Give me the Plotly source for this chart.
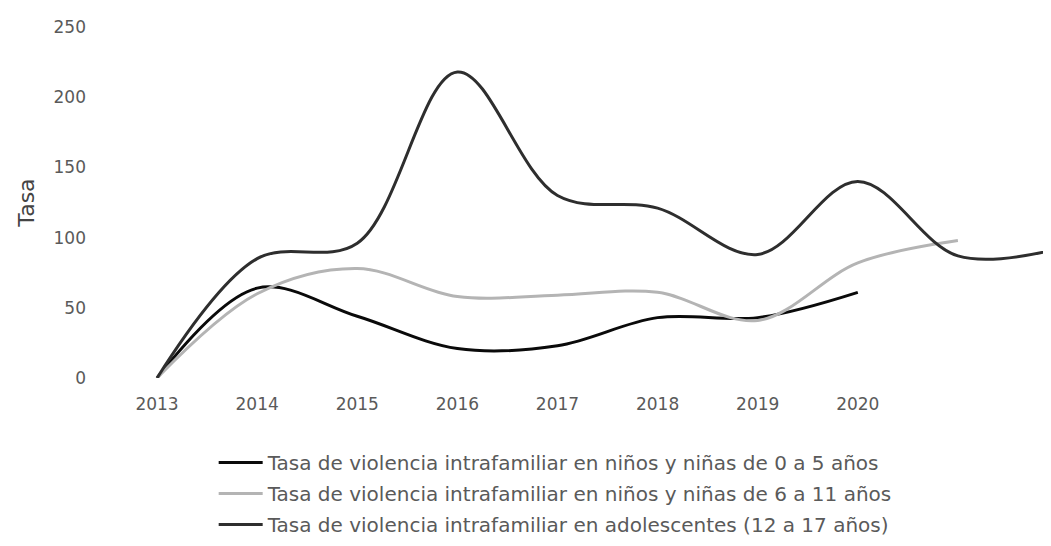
import plotly.graph_objects as go

# ---------------------------------------------------------------------------
# Data
# ---------------------------------------------------------------------------

YEARS_05 = [2013, 2014, 2015, 2016, 2017, 2018, 2019, 2020]
TASA_05 = [0, 64, 44, 21, 23, 43, 43, 61]

YEARS_611 = [2013, 2014, 2015, 2016, 2017, 2018, 2019, 2020, 2021]
TASA_611 = [0, 60, 78, 58, 59, 61, 41, 82, 98]

YEARS_ADOL = [2013, 2014, 2015, 2016, 2017, 2018, 2019, 2020, 2021, 2022]
TASA_ADOL = [0, 85, 96, 218, 130, 121, 88, 140, 87, 92]

TICK_YEARS = [2013, 2014, 2015, 2016, 2017, 2018, 2019, 2020]
TICK_LABELS = ["2013", "2014", "2015", "2016", "2017", "2018", "2019", "2020"]

NAMES = [
    "Tasa de violencia intrafamiliar en niños y niñas de 0 a 5 años",
    "Tasa de violencia intrafamiliar en niños y niñas de 6 a 11 años",
    "Tasa de violencia intrafamiliar en adolescentes (12 a 17 años)",
]
COLORS = ["#0a0a0a", "#b4b4b4", "#2e2e2e"]

FONT = "DejaVu Sans, sans-serif"
GREY_TXT = "#5a5a5a"

# ---------------------------------------------------------------------------
# Figure
# ---------------------------------------------------------------------------

fig = go.Figure()

series = [(YEARS_05, TASA_05), (YEARS_611, TASA_611), (YEARS_ADOL, TASA_ADOL)]
for i, (x, y) in enumerate(series):
    fig.add_trace(
        go.Scatter(
            x=x, y=y,
            name=NAMES[i],
            mode="lines",
            line=dict(color=COLORS[i], width=3, shape="spline", smoothing=1),
            legendgroup=f"g{i}",
        )
    )

# page has an 8px body margin, so the figure is sized to fit the window
fig.update_layout(
    width=1043,
    height=538,
    margin=dict(l=99, r=0, t=19, b=168),
    plot_bgcolor="white",
    paper_bgcolor="white",
    font=dict(family=FONT, size=16, color=GREY_TXT),
    legend=dict(
        x=0.113, y=-0.185,
        xanchor="left", yanchor="top",
        orientation="v",
        tracegroupgap=2,
        itemwidth=44,
        font=dict(size=20, color=GREY_TXT),
        bgcolor="rgba(0,0,0,0)",
    ),
    showlegend=True,
)

fig.update_xaxes(
    range=[2012.5, 2021.93],
    tickvals=TICK_YEARS,
    ticktext=TICK_LABELS,
    showgrid=False,
    zeroline=False,
    showline=False,
    ticks="",
    ticklabelstandoff=14,
    tickfont=dict(size=17, color=GREY_TXT),
)

fig.update_yaxes(
    range=[0, 250],
    dtick=50,
    showgrid=False,
    zeroline=False,
    showline=False,
    ticks="",
    ticklabelstandoff=20,
    tickfont=dict(size=17, color=GREY_TXT),
    title=dict(text="Tasa", font=dict(size=22, color="#444444"), standoff=12),
)

fig.write_html("out.html")
